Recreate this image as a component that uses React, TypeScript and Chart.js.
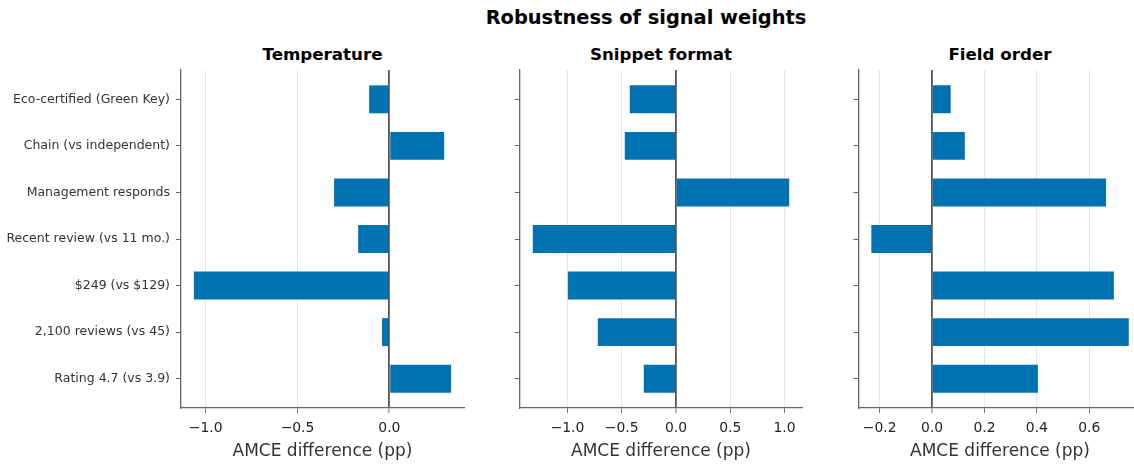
import React, { useEffect, useRef } from "react";
import { Chart, registerables } from "chart.js";

Chart.register(...registerables);

const categories = [
  "Eco-certified (Green Key)",
  "Chain (vs independent)",
  "Management responds",
  "Recent review (vs 11 mo.)",
  "$249 (vs $129)",
  "2,100 reviews (vs 45)",
  "Rating 4.7 (vs 3.9)",
];

const temperatureValues = [-0.11, 0.298, -0.301, -0.17, -1.064, -0.04, 0.336];
const snippetValues = [-0.426, -0.472, 1.044, -1.32, -0.997, -0.721, -0.297];
const fieldOrderValues = [0.071, 0.125, 0.664, -0.232, 0.694, 0.751, 0.404];

const panelTitles = ["Temperature", "Snippet format", "Field order"];
const suptitle = "Robustness of signal weights";
const xAxisTitle = "AMCE difference (pp)";

const FONT = "'DejaVu Sans', sans-serif";
const BAR = "#0072B2";

type PanelCfg = {
  values: number[];
  min: number;
  max: number;
  step: number;
  left: number;
  width: number;
  yWidth: number;
  padRight: number;
  showLabels: boolean;
};

const panels: PanelCfg[] = [
  { values: temperatureValues, min: -1.134, max: 0.406, step: 0.5, left: 0, width: 470, yWidth: 181, padRight: 6, showLabels: true },
  { values: snippetValues, min: -1.438, max: 1.162, step: 0.5, left: 480, width: 330, yWidth: 40, padRight: 8, showLabels: false },
  { values: fieldOrderValues, min: -0.281, max: 0.7995, step: 0.2, left: 820, width: 330, yWidth: 38.5, padRight: 8.5, showLabels: false },
];

function fmt(v: number) {
  if (Math.abs(v) < 1e-9) return "0.0";
  return (v < 0 ? "\u2212" : "") + Math.abs(v).toFixed(1);
}

function Panel({ cfg }: { cfg: PanelCfg }) {
  const ref = useRef<HTMLCanvasElement>(null);
  useEffect(() => {
    if (!ref.current) return;
    const chart = new Chart(ref.current, {
      type: "bar",
      data: {
        datasets: [
          {
            data: cfg.values.map((v, i) => ({ x: v, y: i })),
            backgroundColor: BAR,
            borderWidth: 0,
            barPercentage: 0.6,
            categoryPercentage: 1,
          },
        ],
      },
      options: {
        indexAxis: "y",
        animation: false,
        responsive: false,
        maintainAspectRatio: false,
        layout: { padding: { top: 70, right: cfg.padRight, left: 0, bottom: 0 } },
        plugins: { legend: { display: false }, tooltip: { enabled: false }, title: { display: false } },
        scales: {
          x: {
            type: "linear",
            position: "bottom",
            min: cfg.min,
            max: cfg.max,
            offset: false,
            afterFit: (s: any) => {
              s.height = 56;
            },
            ticks: {
              stepSize: cfg.step,
              includeBounds: false,
              autoSkip: false,
              maxRotation: 0,
              padding: 7,
              color: "#222",
              font: { family: FONT, size: 13.9 },
              callback: (v: any) => fmt(Number(v)),
            },
            grid: {
              offset: false,
              drawOnChartArea: true,
              drawTicks: true,
              tickLength: 5,
              color: (c: any) => (c.tick && Math.abs(c.tick.value) < 1e-9 ? "#555" : "#e6e6e6"),
              lineWidth: (c: any) => (c.tick && Math.abs(c.tick.value) < 1e-9 ? 1.8 : 1),
              tickColor: "#777",
              tickWidth: 1,
            },
            border: { display: true, color: "#666", width: 1.3 },
            title: {
              display: true,
              text: xAxisTitle,
              color: "#333",
              font: { family: FONT, size: 17 },
              padding: { top: 0, bottom: 2 },
            },
          },
          y: {
            type: "linear",
            position: "left",
            reverse: true,
            min: -0.63,
            max: 6.63,
            offset: false,
            afterFit: (s: any) => {
              s.width = cfg.yWidth;
            },
            ticks: {
              stepSize: 1,
              includeBounds: false,
              autoSkip: false,
              padding: 6,
              color: "#333",
              font: { family: FONT, size: 12.5 },
              callback: (v: any) => (cfg.showLabels ? categories[Number(v)] ?? "" : ""),
            },
            grid: {
              offset: false,
              drawOnChartArea: false,
              drawTicks: true,
              tickLength: 5,
              tickColor: "#666",
              tickWidth: 1,
            },
            border: { display: true, color: "#666", width: 1.3 },
          },
        },
      },
    } as any);
    return () => chart.destroy();
  }, [cfg]);
  return (
    <canvas
      ref={ref}
      width={cfg.width}
      height={464}
      style={{ position: "absolute", left: cfg.left, top: 0, width: cfg.width, height: 464 }}
    />
  );
}

export default function App() {
  const titleCenters = [322.5, 661, 1000];
  return (
    <div
      style={{
        position: "absolute",
        left: 0,
        top: 0,
        width: 1134,
        height: 464,
        overflow: "hidden",
        background: "#fff",
        fontFamily: FONT,
      }}
    >
      <div
        style={{
          position: "absolute",
          left: 396,
          width: 500,
          top: 6,
          lineHeight: "24px",
          textAlign: "center",
          fontWeight: "bold",
          fontSize: 19.4,
          color: "#000",
        }}
      >
        {suptitle}
      </div>
      {panelTitles.map((t, i) => (
        <div
          key={t}
          style={{
            position: "absolute",
            left: titleCenters[i] - 150,
            width: 300,
            top: 44,
            lineHeight: "20px",
            textAlign: "center",
            fontWeight: "bold",
            fontSize: 16.7,
            color: "#000",
          }}
        >
          {t}
        </div>
      ))}
      {panels.map((p, i) => (
        <Panel key={i} cfg={p} />
      ))}
    </div>
  );
}
